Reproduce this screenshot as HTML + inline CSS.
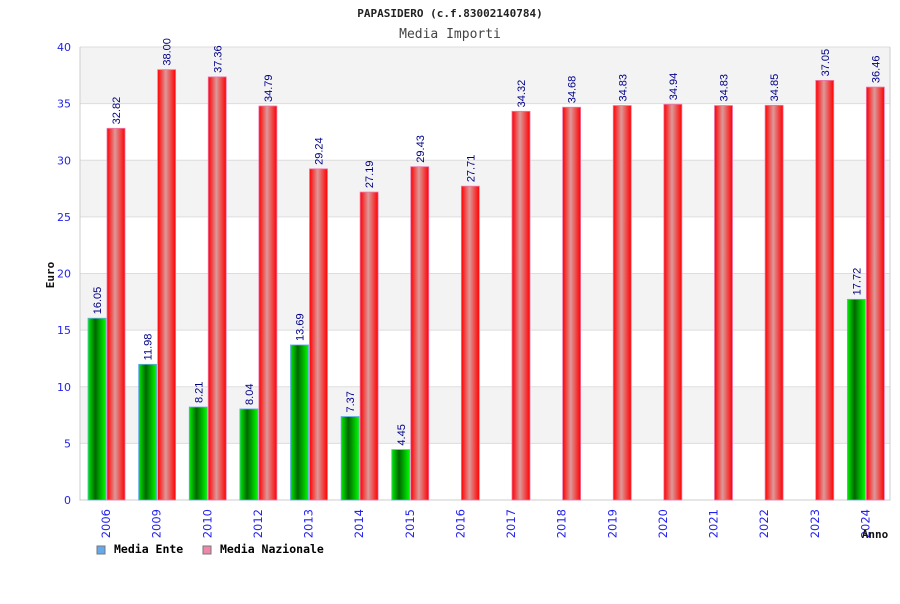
<!DOCTYPE html>
<html><head><meta charset="utf-8"><style>
body{margin:0;background:#fff;width:900px;height:600px;overflow:hidden;font-family:"DejaVu Sans Mono","Liberation Mono",monospace}
</style></head><body>
<svg id="chart" width="900" height="600" xmlns="http://www.w3.org/2000/svg">
<defs>
<linearGradient id="gG" x1="0" x2="1" y1="0" y2="0"><stop offset="0" stop-color="#00ee00"/><stop offset="0.4" stop-color="#006600"/><stop offset="1" stop-color="#00ff00"/></linearGradient>
<linearGradient id="gR" x1="0" x2="1" y1="0" y2="0"><stop offset="0" stop-color="#ff0000"/><stop offset="0.45" stop-color="#dd9999"/><stop offset="1" stop-color="#ff0000"/></linearGradient>
</defs>
<text x="450" y="17" text-anchor="middle" font-size="11" font-weight="bold" fill="#222">PAPASIDERO (c.f.83002140784)</text>
<text x="450" y="38" text-anchor="middle" font-size="13" fill="#444">Media Importi</text>
<g id="plot"></g>
<text transform="translate(54,275) rotate(-90)" text-anchor="middle" font-size="11" font-weight="bold" fill="#111">Euro</text>
<text x="875" y="538" text-anchor="middle" font-size="11" font-weight="bold" fill="#111">Anno</text>
<g>
<rect x="97" y="546" width="8" height="8" fill="#66aaee" stroke="#777"/>
<text x="114" y="553" font-size="11.5" font-weight="bold" fill="#000">Media Ente</text>
<rect x="203" y="546" width="8" height="8" fill="#ee88aa" stroke="#777"/>
<text x="220" y="553" font-size="11.5" font-weight="bold" fill="#000">Media Nazionale</text>
</g>
</svg>
<script>
const categories=["2006","2009","2010","2012","2013","2014","2015","2016","2017","2018","2019","2020","2021","2022","2023","2024"];
const enteValues=[16.05,11.98,8.21,8.04,13.69,7.37,4.45,null,null,null,null,null,null,null,null,17.72];
const nazionaleValues=[32.82,38.00,37.36,34.79,29.24,27.19,29.43,27.71,34.32,34.68,34.83,34.94,34.83,34.85,37.05,36.46];
const yTicks=[0,5,10,15,20,25,30,35,40];
const NS="http://www.w3.org/2000/svg";
const L=80,R=890,T=47,B=500,yMax=40;
const y=v=>B-(v/yMax)*(B-T);
const step=(R-L)/categories.length;
const x=i=>L+i*step;
const g=document.getElementById('plot');
function mk(t,a){const e=document.createElementNS(NS,t);for(const k in a)e.setAttribute(k,a[k]);g.appendChild(e);return e;}
for(let i=0;i<yTicks.length-1;i++){
 if(i%2===1){const b=mk('rect',{x:L,y:y(yTicks[i+1]),width:R-L,height:y(yTicks[i])-y(yTicks[i+1]),fill:'#f3f3f3'});
 
 }
}
yTicks.forEach(t=>{
 const l=mk('line',{x1:L,x2:R,y1:y(t),y2:y(t),stroke:'#dddddd'});
 
 
 const tx=mk('text',{x:L-9,y:y(t)+4,'text-anchor':'end','font-size':'11',fill:'#2222ee','font-family':'DejaVu Sans, sans-serif'});
 tx.textContent=t;
 
 
});
const ax=mk('path',{d:`M${L},${T}V${B}H${R}V${T}`,fill:'none',stroke:'#cccccc'});


const bw=18;
const vf='Liberation Sans, sans-serif';
categories.forEach((c,i)=>{
 const x0=x(i)+8;
 if(enteValues[i]!=null){
  const v=enteValues[i];
  const r=mk('rect',{x:x0,y:y(v),width:bw,height:B-y(v),fill:'url(#gG)',stroke:'#66aaee','stroke-width':'0.8'});
  
  
  const t=mk('text',{transform:`translate(${x0+bw/2+4},${y(v)-4}) rotate(-90)`,'font-size':'11',fill:'#000088','font-family':vf});
  t.textContent=v.toFixed(2);
  
  
 }
 const v=nazionaleValues[i];const x1=x0+bw+1;
 const r=mk('rect',{x:x1,y:y(v),width:bw,height:B-y(v),fill:'url(#gR)',stroke:'#ee77aa','stroke-width':'0.8'});
 
 
 const t=mk('text',{transform:`translate(${x1+bw/2+4},${y(v)-4}) rotate(-90)`,'font-size':'11',fill:'#000088','font-family':vf});
 t.textContent=v.toFixed(2);
 
 
 const xl=mk('text',{transform:`translate(${x0+bw+4},${B+9}) rotate(-90)`,'text-anchor':'end','font-size':'11.5',fill:'#2222ee','font-family':'DejaVu Sans, sans-serif'});
 xl.textContent=c;
 
 
});
</script>
</body></html>
